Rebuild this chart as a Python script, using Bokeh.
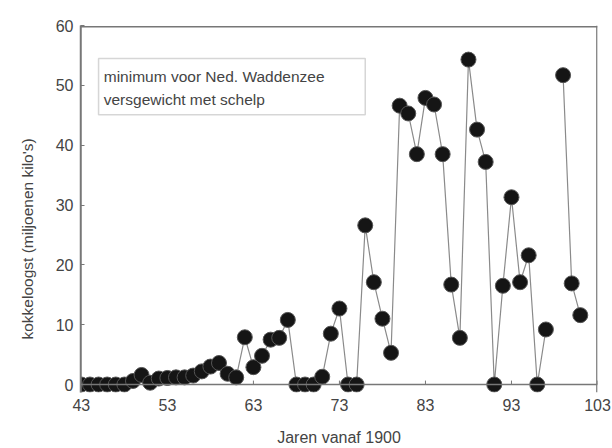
import math
from bokeh.plotting import figure
from bokeh.models import ColumnDataSource, Range1d, FixedTicker, BoxAnnotation, Label, Span, Title
from bokeh.embed import file_html
from bokeh.resources import INLINE

years = list(range(43, 102))
harvest = [0, 0, 0, 0, 0, 0, 0.6, 1.6, 0.3, 1.0,
           1.1, 1.2, 1.2, 1.5, 2.2, 3.0, 3.6, 1.8, 1.2, 7.9,
           2.9, 4.8, 7.5, 7.8, 10.8, 0, 0, 0, 1.3, 8.5,
           12.7, 0, 0, 26.6, 17.1, 11.0, 5.3, 46.6, 45.3, 38.5,
           47.9, 46.8, 38.5, 16.7, 7.8, 54.3, 42.6, 37.2, 0, 16.5,
           31.3, 17.1, 21.6, 0, 9.2, float("nan"), 51.7, 16.9, 11.6]
x_ticks = [43, 53, 63, 73, 83, 93, 103]
y_ticks = [0, 10, 20, 30, 40, 50, 60]
legend_lines = ["minimum voor Ned. Waddenzee", "versgewicht met schelp"]
x_title = "Jaren vanaf 1900"
y_title = "kokkeloogst (miljoenen kilo's)"

src = ColumnDataSource(dict(x=years, y=harvest))
tick_src = ColumnDataSource(dict(x=x_ticks, y0=[0] * len(x_ticks), y1=[0.66] * len(x_ticks)))

p = figure(width=612, height=448, output_backend="svg", toolbar_location=None,
           x_range=Range1d(42.9, 103.0), y_range=Range1d(-1.33, 60),
           min_border_left=80, min_border_right=15, min_border_top=25, min_border_bottom=53)

FONT = "Liberation Sans"
GRAY = "#777777"
TXT = "#444444"

# frame lines (left, top, right, bottom at y=0)
p.add_layout(Span(location=42.95, dimension="height", line_color=GRAY, line_width=1.5))
p.add_layout(Span(location=59.8, dimension="width", line_color=GRAY, line_width=1.5))
p.add_layout(Span(location=102.93, dimension="height", line_color=GRAY, line_width=1.5))
p.add_layout(Span(location=0, dimension="width", line_color=GRAY, line_width=1.5))
p.segment(x0="x", y0="y0", x1="x", y1="y1", source=tick_src, line_color=GRAY, line_width=1)

p.line("x", "y", source=src, line_color="#8a8a8a", line_width=1.2)
p.scatter("x", "y", source=src, size=15, fill_color="#151515", line_color="#555555", line_width=1)

p.xgrid.visible = False
p.ygrid.visible = False
p.outline_line_color = None

for ax in (p.xaxis[0], p.yaxis[0]):
    ax.axis_line_color = GRAY
    ax.axis_line_width = 1.5
    ax.major_tick_line_color = GRAY
    ax.major_tick_in = 4
    ax.major_tick_out = 0
    ax.minor_tick_line_color = None
    ax.major_label_text_font = FONT
    ax.major_label_text_font_size = "16px"
    ax.major_label_text_color = TXT
    ax.axis_label_text_font = FONT
    ax.axis_label_text_font_style = "normal"
    ax.axis_label_text_color = TXT

p.xaxis.ticker = FixedTicker(ticks=x_ticks)
p.xaxis.axis_line_color = None
p.xaxis.major_tick_line_color = None
p.xaxis.major_label_standoff = 6
p.yaxis.ticker = FixedTicker(ticks=y_ticks)
p.yaxis.major_label_standoff = 7
p.xaxis.axis_label = x_title
p.xaxis.axis_label_text_font_size = "16px"
p.xaxis.axis_label_standoff = 15

p.add_layout(Title(text=y_title, align="left", offset=53, text_font=FONT,
                   text_font_size="15.5px", text_font_style="normal", text_color=TXT,
                   standoff=33), "left")

p.add_layout(BoxAnnotation(left=45.0, right=76.0, bottom=45.1, top=54.5,
                           fill_color=None, line_color=GRAY, line_width=1.5))
p.add_layout(Label(x=45.6, y=51.4, text=legend_lines[0], text_font=FONT,
                   text_font_size="15.5px", text_color=TXT, text_baseline="middle"))
p.add_layout(Label(x=45.6, y=47.6, text=legend_lines[1], text_font=FONT,
                   text_font_size="15.5px", text_color=TXT, text_baseline="middle"))

open("out.html", "w").write(file_html(p, INLINE))
